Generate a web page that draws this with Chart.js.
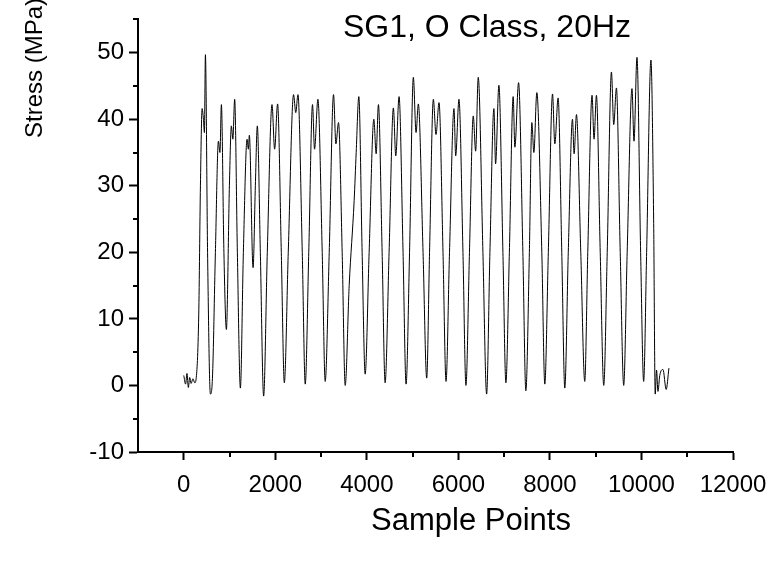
<!DOCTYPE html>
<html>
<head>
<meta charset="utf-8">
<script src="https://cdn.jsdelivr.net/npm/chart.js@4.4.1/dist/chart.umd.min.js"></script>
<style>
  body { margin: 0; background: #fff; }
  #wrap { width: 780px; height: 565px; }
</style>
</head>
<body>
<div id="wrap"><canvas id="stressChart" width="780" height="565"></canvas></div>
<script>
// Podaci ocitani sa grafika (SG1, O Class, 20Hz)
const samplePoints = [
    0, 40, 70, 100, 130, 160, 200, 240, 270,
    327, 364, 401, 430, 451, 473, 520, 582,
    626, 691, 757, 790, 822, 877, 931,
    997, 1040, 1073, 1112, 1171, 1237,
    1302, 1383, 1411, 1433, 1514, 1564, 1607, 1673, 1745,
    1825, 1928, 1985, 2050, 2131, 2197,
    2283, 2399, 2447, 2495, 2589, 2654,
    2731, 2813, 2857, 2931, 3025, 3090,
    3178, 3272, 3324, 3381, 3461, 3527,
    3614, 3723, 3767, 3825, 3897, 3963,
    4050, 4153, 4203, 4253, 4334, 4399,
    4486, 4580, 4632, 4704, 4791, 4857,
    4933, 5016, 5075, 5125, 5228, 5308,
    5370, 5453, 5511, 5577, 5664, 5730,
    5806, 5904, 5941, 6013, 6100, 6165,
    6242, 6325, 6377, 6434, 6536, 6617,
    6689, 6776, 6813, 6885, 6973, 7038,
    7114, 7197, 7234, 7315, 7409, 7474,
    7551, 7605, 7649, 7714, 7823, 7888,
    7965, 8057, 8107, 8179, 8259, 8325,
    8401, 8493, 8528, 8580, 8674, 8761,
    8827, 8920, 8964, 9016, 9099, 9176,
    9252, 9344, 9394, 9453, 9536, 9612,
    9688, 9793, 9837, 9902, 9982, 10048,
    10113, 10207, 10266, 10300,
    10330, 10360, 10400, 10470, 10540, 10600
];
const stressMPa = [
    1.5, 0.2, 1.8, -0.3, 1.2, 0.3, 1.0, 0.4, 1.0,
    10.6, 30, 41.6, 40, 38, 49.7, 20, -1.3,
    1.0, 20, 36.7, 35, 42.2, 20, 8.4,
    30, 39, 37, 43, 20, -0.4,
    20, 37, 35.5, 37.6, 17.7, 30, 39, 20, -1.6,
    20, 42.2, 35.5, 42.3, 20, 0.4,
    20, 43.7, 41, 43.7, 20, 0.2,
    20, 42.2, 35.5, 43, 20, 0.6,
    20, 43.7, 36.3, 39.5, 20, 0,
    15, 27.8, 35, 43.4, 20, 1.7,
    20, 40, 34.8, 42.2, 20, 0.4,
    20, 41.7, 34.5, 43.4, 20, 0.2,
    20, 46.3, 38, 42.3, 20, 1.1,
    20, 43, 37.7, 42.5, 20, 0.6,
    20, 41.6, 34.5, 43, 20, 0,
    20, 40.5, 35.2, 46.3, 20, -1.3,
    20, 41.6, 33.3, 45.1, 20, 0.4,
    20, 43.4, 35.8, 45.5, 20, -0.8,
    20, 39.5, 35, 44, 20, 0.2,
    20, 43.8, 36.3, 43.2, 20, -0.4,
    20, 40, 34.8, 40.7, 20, 0.6,
    20, 43.6, 37, 43.6, 20, 0,
    20, 47.1, 39.2, 44.7, 20, 0,
    20, 44.6, 36.7, 49.3, 20, 0.6,
    20, 48.9, 25, -1.3,
    2.3, -0.9, 1.5, 2.4, -0.6, 2.6
];

// Oznake na osama
const xMajorTicks = [0, 2000, 4000, 6000, 8000, 10000, 12000];
const xMinorTicks = [1000, 3000, 5000, 7000, 9000, 11000];
const yMajorTicks = [-10, 0, 10, 20, 30, 40, 50];
const yMinorTicks = [-5, 5, 15, 25, 35, 45, 55];

const chartTitle = 'SG1, O Class, 20Hz';
const xTitle = 'Sample Points';
const yTitle = 'Stress (MPa)';

const fontName = "'Liberation Sans', Arial, sans-serif";

const points = samplePoints.map((s, i) => ({ x: s, y: stressMPa[i] }));

// Naslov, nazivi osa i sporedne crtice
const extrasPlugin = {
    id: 'extras',
    afterDraw(chart) {
        const ctx = chart.ctx;
        const xs = chart.scales.x;
        const ys = chart.scales.y;
        ctx.save();
        ctx.strokeStyle = '#000';
        ctx.lineWidth = 2;
        ctx.beginPath();
        xMinorTicks.forEach(v => {
            const px = Math.round(xs.getPixelForValue(v));
            ctx.moveTo(px, ys.bottom);
            ctx.lineTo(px, ys.bottom + 5);
        });
        yMinorTicks.forEach(v => {
            const py = Math.round(ys.getPixelForValue(v));
            ctx.moveTo(xs.left, py);
            ctx.lineTo(xs.left - 5, py);
        });
        ctx.stroke();

        ctx.fillStyle = '#000';
        ctx.textAlign = 'center';
        ctx.textBaseline = 'alphabetic';
        ctx.font = '32px ' + fontName;
        ctx.fillText(chartTitle, 487, 37);

        ctx.font = '31px ' + fontName;
        ctx.fillText(xTitle, 471, 530);

        ctx.translate(42, 68);
        ctx.rotate(-Math.PI / 2);
        ctx.font = '24px ' + fontName;
        ctx.fillText(yTitle, 0, 0);
        ctx.restore();
    }
};

new Chart(document.getElementById('stressChart').getContext('2d'), {
    type: 'line',
    data: {
        datasets: [{
            label: 'Stress',
            data: points,
            borderColor: '#000',
            borderWidth: 1,
            pointRadius: 0,
            fill: false,
            cubicInterpolationMode: 'monotone'
        }]
    },
    options: {
        responsive: false,
        animation: false,
        layout: { padding: { top: 14, right: 47, left: 0, bottom: 0 } },
        plugins: {
            legend: { display: false },
            tooltip: { enabled: false }
        },
        scales: {
            x: {
                type: 'linear',
                min: -1000,
                max: 12000,
                afterFit(scale) { scale.height = 113; },
                afterBuildTicks(scale) { scale.ticks = xMajorTicks.map(v => ({ value: v })); },
                ticks: {
                    color: '#000',
                    font: { family: fontName, size: 24 },
                    padding: 11,
                    maxRotation: 0,
                    autoSkip: false,
                    callback: v => String(v)
                },
                grid: { drawOnChartArea: false, tickLength: 8, tickWidth: 2, tickColor: '#000' },
                border: { color: '#000', width: 2 }
            },
            y: {
                type: 'linear',
                min: -10,
                max: 55,
                afterFit(scale) { scale.width = 138; },
                afterBuildTicks(scale) { scale.ticks = yMajorTicks.map(v => ({ value: v })); },
                ticks: {
                    color: '#000',
                    font: { family: fontName, size: 24 },
                    padding: 5,
                    callback: v => String(v)
                },
                grid: { drawOnChartArea: false, tickLength: 9, tickWidth: 2, tickColor: '#000' },
                border: { color: '#000', width: 2 }
            }
        }
    },
    plugins: [extrasPlugin]
});
</script>
</body>
</html>
